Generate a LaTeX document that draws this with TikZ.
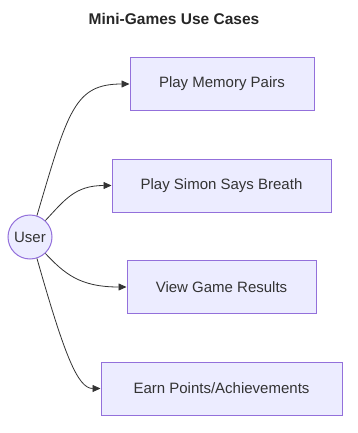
\documentclass[tikz,border=0pt]{standalone}
\usepackage{fontspec}
\setmainfont{Liberation Sans}
\usetikzlibrary{arrows.meta,positioning}
\definecolor{ucfill}{HTML}{ECECFF}
\definecolor{ucline}{HTML}{9370DB}
\definecolor{edgeink}{HTML}{333333}
\tikzset{
  ucbox/.style={draw=ucline,fill=ucfill,line width=1pt,
                minimum height=53pt,inner sep=0pt,align=center,
                font=\fontsize{15}{18}\selectfont,text=edgeink},
  actor/.style={draw=ucline,fill=ucfill,line width=1pt,circle,
                minimum size=44pt,inner sep=0pt,
                font=\fontsize{15}{18}\selectfont,text=edgeink},
  ucarr/.style={-{Triangle[length=8pt,width=7pt]},line width=0.8pt,color=edgeink}
}
\begin{document}
\begin{tikzpicture}[x=1pt,y=-1pt]
  \useasboundingbox (0,0) rectangle (358,433);
  \node[font=\bfseries\fontsize{15.5}{19}\selectfont,text=black!85] (title) at (174,19) {Mini-Games Use Cases};
  % actor and the four use cases
  \node[actor] (usr) at (30,237) {User};
  \node[ucbox,minimum width=184pt] (memo) at (222,84) {Play Memory Pairs};
  \node[ucbox,minimum width=219pt] (simon) at (221.5,185.5) {Play Simon Says Breath};
  \node[ucbox,minimum width=189pt] (results) at (221.5,287) {View Game Results};
  \node[ucbox,minimum width=241pt] (points) at (221.5,388.5) {Earn Points/Achievements};
  % links
  \draw[ucarr] (usr.72) .. controls +(31,-105) and +(-55,0) .. (memo.west);
  \draw[ucarr] (usr.47) .. controls +(19,-20) and +(-37,0) .. (simon.west);
  \draw[ucarr] (usr.-47) .. controls +(19,20) and +(-47,0) .. (results.west);
  \draw[ucarr] (usr.-72) .. controls +(27,95) and +(-23,0) .. (points.west);
\end{tikzpicture}
\end{document}
